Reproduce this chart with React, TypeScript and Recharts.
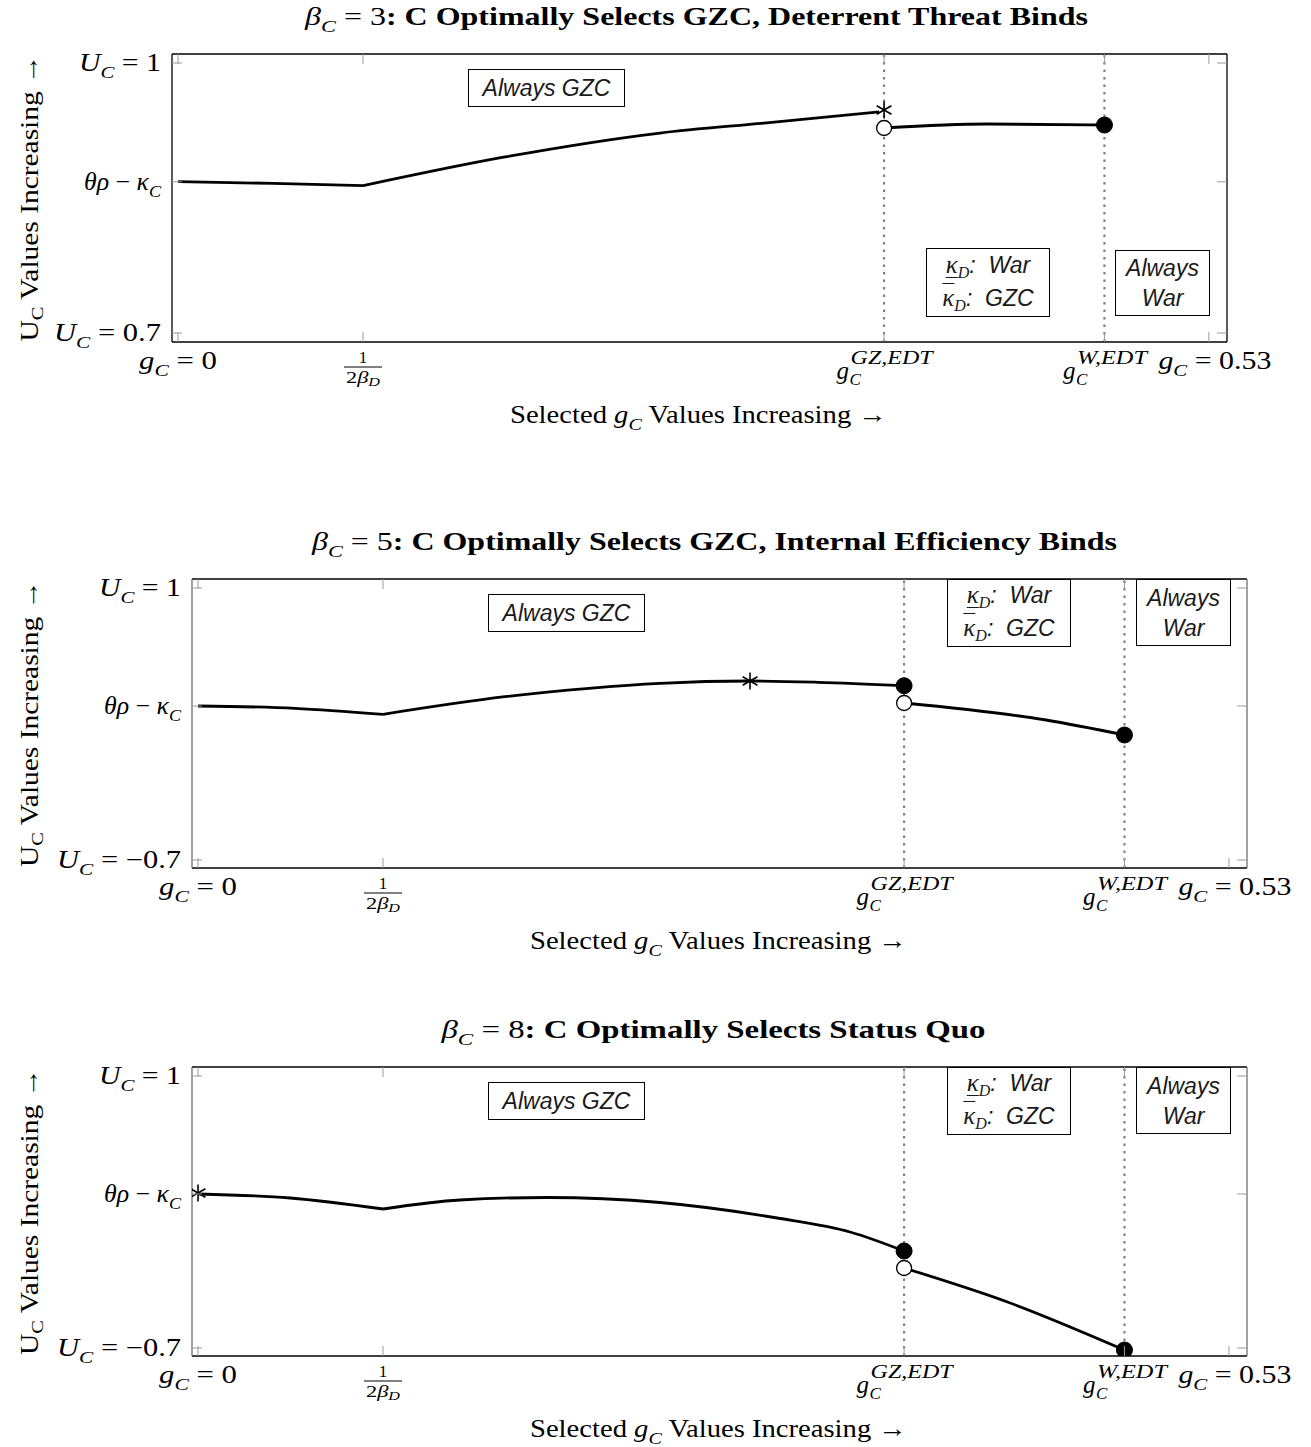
import React from 'react';
import { ComposedChart, Line, XAxis, YAxis, ReferenceLine } from 'recharts';

const SERIF = "'Liberation Serif', 'Times New Roman', serif";
const SANS = "'Liberation Sans', Arial, sans-serif";
const PAGE_W = 1311;

// ---------------- shared x axis ----------------
const X_DOMAIN: [number, number] = [-0.0031, 0.5393];
const X_TICKS = [0, 0.0951, 0.363, 0.4763, 0.53];
const X_TICK_LABELS = ['g_C = 0', '\\frac{1}{2β_D}', 'g_C^{GZ,EDT}', 'g_C^{W,EDT}', 'g_C = 0.53'];
const THRESHOLDS = [0.363, 0.4763];
const X_TITLE = 'Selected g_C Values Increasing →';
const Y_TITLE = 'U_C Values Increasing →';

// ---------------- panel 1: beta_C = 3 ----------------
const P1_TITLE_MATH = 'β_C = 3';
const P1_TITLE_TEXT = ': C Optimally Selects GZC, Deterrent Threat Binds';
const P1_Y_DOMAIN: [number, number] = [0.69, 1.01];
const P1_Y_TICKS = [0.7, 0.868, 1];
const P1_Y_LABELS = ['U_C = 0.7', 'θρ − κ_C', 'U_C = 1'];
const P1_SEG_A = [
  { x: 0, y: 0.8681 },
  { x: 0.0488, y: 0.8663 },
  { x: 0.0951, y: 0.8637 },
];
const P1_SEG_B = [
  { x: 0.0951, y: 0.8637 },
  { x: 0.1681, y: 0.8956 },
  { x: 0.2478, y: 0.9222 },
  { x: 0.3013, y: 0.9333 },
  { x: 0.3605, y: 0.9456 },
];
const P1_SEG_C = [
  { x: 0.363, y: 0.9278 },
  { x: 0.416, y: 0.9322 },
  { x: 0.4763, y: 0.9311 },
];
const P1_STAR = [{ x: 0.363, y: 0.9478 }];
const P1_OPEN = [{ x: 0.363, y: 0.9278 }];
const P1_FILLED = [{ x: 0.4763, y: 0.9311 }];

// ---------------- panel 2: beta_C = 5 ----------------
const P2_TITLE_MATH = 'β_C = 5';
const P2_TITLE_TEXT = ': C Optimally Selects GZC, Internal Efficiency Binds';
const P2_Y_DOMAIN: [number, number] = [-0.75, 1.05625];
const P2_Y_TICKS = [-0.7, 0.2625, 1];
const P2_Y_LABELS = ['U_C = −0.7', 'θρ − κ_C', 'U_C = 1'];
const P2_SEG_A = [
  { x: 0, y: 0.2625 },
  { x: 0.0499, y: 0.2481 },
  { x: 0.0951, y: 0.2106 },
];
const P2_SEG_B = [
  { x: 0.0951, y: 0.2106 },
  { x: 0.1578, y: 0.3206 },
  { x: 0.201, y: 0.3731 },
  { x: 0.2375, y: 0.4044 },
  { x: 0.2838, y: 0.4188 },
  { x: 0.3188, y: 0.4106 },
  { x: 0.363, y: 0.3894 },
];
const P2_SEG_C = [
  { x: 0.363, y: 0.2813 },
  { x: 0.436, y: 0.175 },
  { x: 0.4763, y: 0.0813 },
];
const P2_STAR = [{ x: 0.2838, y: 0.4188 }];
const P2_OPEN = [{ x: 0.363, y: 0.2813 }];
const P2_FILLED = [
  { x: 0.363, y: 0.3894 },
  { x: 0.4763, y: 0.0813 },
];

// ---------------- panel 3: beta_C = 8 ----------------
const P3_TITLE_MATH = 'β_C = 8';
const P3_TITLE_TEXT = ': C Optimally Selects Status Quo';
const P3_Y_DOMAIN: [number, number] = [-0.75, 1.05625];
const P3_Y_TICKS = [-0.7, 0.2625, 1];
const P3_Y_LABELS = ['U_C = −0.7', 'θρ − κ_C', 'U_C = 1'];
const P3_SEG_A = [
  { x: 0, y: 0.2625 },
  { x: 0.0473, y: 0.2375 },
  { x: 0.0951, y: 0.1688 },
];
const P3_SEG_B = [
  { x: 0.0951, y: 0.1688 },
  { x: 0.1347, y: 0.225 },
  { x: 0.1794, y: 0.2406 },
  { x: 0.2375, y: 0.2094 },
  { x: 0.2977, y: 0.1125 },
  { x: 0.3352, y: 0.025 },
  { x: 0.363, y: -0.0938 },
];
const P3_SEG_C = [
  { x: 0.363, y: -0.2 },
  { x: 0.4165, y: -0.4138 },
  { x: 0.4763, y: -0.7125 },
];
const P3_STAR = [{ x: 0, y: 0.269 }];
const P3_OPEN = [{ x: 0.363, y: -0.2 }];
const P3_FILLED = [
  { x: 0.363, y: -0.0938 },
  { x: 0.4763, y: -0.7125 },
];

// ---------------- annotation boxes ----------------
const BOX_GZC = ['Always GZC'];
const BOX_KAPPA = ['War', 'GZC'];
const BOX_WAR = ['Always', 'War'];

type Pt = { x: number; y: number };
type BoxCfg = { kind: 'gzc' | 'kappa' | 'war'; left: number; top: number; w: number; h: number };

const P1_BOXES: BoxCfg[] = [
  { kind: 'gzc', left: 296, top: 15, w: 157, h: 38 },
  { kind: 'kappa', left: 754, top: 194, w: 124, h: 69 },
  { kind: 'war', left: 943, top: 196, w: 95, h: 66 },
];
const P23_BOXES: BoxCfg[] = [
  { kind: 'gzc', left: 296, top: 15, w: 157, h: 38 },
  { kind: 'kappa', left: 755, top: 0, w: 124, h: 68 },
  { kind: 'war', left: 944, top: 0, w: 95, h: 67 },
];

// rendered widths (px) of the tick labels, to mimic the wide TeX math font
const LABEL_LEN: Record<string, number> = {
  'U_C = 1': 82,
  'θρ − κ_C': 77,
  'U_C = 0.7': 107,
  'U_C = −0.7': 124,
  'g_C = 0': 78,
  'g_C = 0.53': 113,
};
const LABEL_DX: Record<string, number> = { 'g_C = 0.53': 6 };

// ---------------- math text helpers ----------------
type Run = { t: string; it?: boolean; sub?: boolean; bold?: boolean };

function parseRuns(s: string): Run[] {
  const runs: Run[] = [];
  let i = 0;
  while (i < s.length) {
    const ch = s[i];
    if (ch === '_') {
      runs.push({ t: s[i + 1], sub: true, it: true });
      i += 2;
      continue;
    }
    const isLetter = /[A-Za-zα-ωΑ-Ω]/.test(ch);
    const last = runs[runs.length - 1];
    if (last && !last.sub && !!last.it === isLetter) last.t += ch;
    else runs.push({ t: ch, it: isLetter });
    i++;
  }
  return runs;
}

function renderRuns(runs: Run[], fs: number, keyPrefix: string, subScale = 0.7, subShift = 0.28) {
  let shifted = false;
  const sh = fs * subShift;
  return runs.map((r, k) => {
    let dy: number | undefined;
    if (r.sub && !shifted) {
      dy = sh;
      shifted = true;
    } else if (!r.sub && shifted) {
      dy = -sh;
      shifted = false;
    }
    return (
      <tspan
        key={keyPrefix + k}
        dy={dy}
        fontStyle={r.it ? 'italic' : 'normal'}
        fontWeight={r.bold ? 'bold' : 'normal'}
        fontSize={r.sub ? fs * subScale : fs}
      >
        {r.t}
      </tspan>
    );
  });
}

// ---------------- markers ----------------
const StarMark = ({ cx, cy }: { cx: number; cy: number }) => {
  const r = 8.5;
  const a = r * Math.cos(Math.PI / 6);
  const b = r * Math.sin(Math.PI / 6);
  return (
    <g stroke="#000" strokeWidth={1.6}>
      <line x1={cx} y1={cy - r} x2={cx} y2={cy + r} />
      <line x1={cx - a} y1={cy - b} x2={cx + a} y2={cy + b} />
      <line x1={cx - a} y1={cy + b} x2={cx + a} y2={cy - b} />
    </g>
  );
};

const starDot = (p: any) => <StarMark key={'s' + p.index} cx={p.cx} cy={p.cy} />;
const openDot = (p: any) => (
  <circle key={'o' + p.index} cx={p.cx} cy={p.cy} r={7.5} fill="#fff" stroke="#000" strokeWidth={1.3} />
);
const filledDot = (p: any) => (
  <circle key={'f' + p.index} cx={p.cx} cy={p.cy} r={8} fill="#000" stroke="#000" strokeWidth={1} />
);

// ---------------- tick renderers ----------------
const TICK_COLOR = '#9a9a9a';
const TICK_LEN = 10;
const TICK_FS = 25;

function XTickLabel({ label, cx, y0 }: { label: string; cx: number; y0: number }) {
  const frac = label.match(/^\\frac\{(.+)\}\{(.+)\}$/);
  if (frac) {
    const den = parseRuns(frac[2]);
    return (
      <g fontFamily={SERIF} fill="#000">
        <text x={cx} y={y0 + 21} textAnchor="middle" fontSize={17}>
          {frac[1]}
        </text>
        <line x1={cx - 19} x2={cx + 19} y1={y0 + 25} y2={y0 + 25} stroke="#000" strokeWidth={1} />
        <text
          x={cx - 17}
          y={y0 + 41}
          fontSize={17}
          textLength={34}
          lengthAdjust="spacingAndGlyphs"
          style={{ whiteSpace: 'pre' }}
        >
          {renderRuns(den, 17, 'd', 0.72, 0.18)}
        </text>
      </g>
    );
  }
  const ss = label.match(/^(\w)_(\w)\^\{(.+)\}$/);
  if (ss) {
    const supW = ss[3].length > 5 ? 82 : 70;
    const gW = 13;
    const x0 = cx - (gW + supW) / 2;
    return (
      <g fontFamily={SERIF} fill="#000" fontStyle="italic">
        <text x={x0} y={y0 + 37} fontSize={TICK_FS}>
          {ss[1]}
        </text>
        <text x={x0 + gW} y={y0 + 43} fontSize={17}>
          {ss[2]}
        </text>
        <text x={x0 + gW + 1} y={y0 + 22} fontSize={18} textLength={supW} lengthAdjust="spacingAndGlyphs">
          {ss[3]}
        </text>
      </g>
    );
  }
  return (
    <text
      x={cx + (LABEL_DX[label] || 0)}
      y={y0 + 27}
      textAnchor="middle"
      fontFamily={SERIF}
      fontSize={TICK_FS}
      fill="#000"
      textLength={LABEL_LEN[label]}
      lengthAdjust="spacingAndGlyphs"
      style={{ whiteSpace: 'pre' }}
    >
      {renderRuns(parseRuns(label), TICK_FS, 'x')}
    </text>
  );
}

const makeBottomTick = () => (p: any) => {
  const cx = p.payload.coordinate;
  const y0 = p.y;
  const idx = X_TICKS.indexOf(p.payload.value);
  return (
    <g key={'bt' + idx}>
      <line x1={cx} x2={cx} y1={y0} y2={y0 - TICK_LEN} stroke={TICK_COLOR} strokeWidth={1} />
      {idx >= 0 && <XTickLabel label={X_TICK_LABELS[idx]} cx={cx} y0={y0} />}
    </g>
  );
};

const makeTopTick = () => (p: any) => {
  const cx = p.payload.coordinate;
  return <line key={'tt' + p.index} x1={cx} x2={cx} y1={p.y} y2={p.y + TICK_LEN} stroke={TICK_COLOR} strokeWidth={1} />;
};

const makeLeftTick = (ticks: number[], labels: string[]) => (p: any) => {
  const cy = p.payload.coordinate;
  const x0 = p.x;
  const idx = ticks.indexOf(p.payload.value);
  const lbl = idx >= 0 ? labels[idx] : '';
  return (
    <g key={'lt' + idx}>
      <line x1={x0} x2={x0 + TICK_LEN} y1={cy} y2={cy} stroke={TICK_COLOR} strokeWidth={1} />
      {idx >= 0 && (
        <text
          x={x0 - 11}
          y={cy + 8}
          textAnchor="end"
          fontFamily={SERIF}
          fontSize={TICK_FS}
          fill="#000"
          textLength={LABEL_LEN[lbl]}
          lengthAdjust="spacingAndGlyphs"
          style={{ whiteSpace: 'pre' }}
        >
          {renderRuns(parseRuns(lbl), TICK_FS, 'y')}
        </text>
      )}
    </g>
  );
};

const makeRightTick = () => (p: any) => {
  const cy = p.payload.coordinate;
  return <line key={'rt' + p.index} x1={p.x - TICK_LEN} x2={p.x} y1={cy} y2={cy} stroke={TICK_COLOR} strokeWidth={1} />;
};

// ---------------- panel ----------------
type PanelCfg = {
  top: number;
  chartH: number;
  plotLeft: number;
  rightW: number;
  plotTop: number;
  plotH: number;
  sideColor: string;
  titleMath: string;
  titleText: string;
  titleLen: number;
  titleDx: number;
  yDomain: [number, number];
  yTicks: number[];
  yLabels: string[];
  segments: Pt[][];
  stars: Pt[];
  opens: Pt[];
  filled: Pt[];
  boxes: BoxCfg[];
};

function BoxView({ b, plotLeft, plotTop }: { b: BoxCfg; plotLeft: number; plotTop: number }) {
  const style: React.CSSProperties = {
    position: 'absolute',
    left: plotLeft + b.left,
    top: plotTop + b.top,
    width: b.w,
    height: b.h,
    boxSizing: 'border-box',
    border: '1.3px solid #000',
    background: '#fff',
    display: 'flex',
    flexDirection: 'column',
    alignItems: 'center',
    justifyContent: 'center',
    fontFamily: SANS,
    fontStyle: 'italic',
    fontSize: 23,
    lineHeight: '30px',
    color: '#1a1a1a',
    whiteSpace: 'nowrap',
  };
  const kap: React.CSSProperties = { fontFamily: SERIF, fontStyle: 'italic', fontSize: 25 };
  const sub: React.CSSProperties = { fontFamily: SERIF, fontStyle: 'italic', fontSize: 16, position: 'relative', top: 5 };
  if (b.kind === 'gzc') return <div style={style}>{BOX_GZC[0]}</div>;
  if (b.kind === 'war')
    return (
      <div style={style}>
        <div>{BOX_WAR[0]}</div>
        <div>{BOX_WAR[1]}</div>
      </div>
    );
  return (
    <div style={style}>
      <div>
        <span style={{ ...kap, textDecoration: 'underline', textUnderlineOffset: '4px', textDecorationThickness: '1.3px' }}>κ</span>
        <span style={sub}>D</span>
        <span>:&nbsp; {BOX_KAPPA[0]}</span>
      </div>
      <div>
        <span style={{ ...kap, textDecoration: 'overline', textDecorationThickness: '1.3px' }}>κ</span>
        <span style={sub}>D</span>
        <span>:&nbsp; {BOX_KAPPA[1]}</span>
      </div>
    </div>
  );
}

function Panel({ cfg }: { cfg: PanelCfg }) {
  const { top, chartH, plotLeft, rightW, plotTop, plotH } = cfg;
  const bottomH = chartH - plotTop - plotH;
  const plotW = PAGE_W - plotLeft - rightW;
  const midX = plotLeft + plotW / 2;
  const midY = plotTop + plotH / 2;
  const frameH = { stroke: '#000', strokeWidth: 1.3 };
  const frameV = { stroke: cfg.sideColor, strokeWidth: 1.3 };

  const titleLabel = () => (
    <text
      x={midX + cfg.titleDx}
      y={plotTop - 29}
      textAnchor="middle"
      fontFamily={SERIF}
      fill="#000"
      textLength={cfg.titleLen}
      lengthAdjust="spacingAndGlyphs"
      style={{ whiteSpace: 'pre' }}
    >
      {renderRuns([...parseRuns(cfg.titleMath), { t: cfg.titleText, bold: true }], 25, 't')}
    </text>
  );

  // only the math symbol g_C is italic in the x title
  const xRuns = parseRuns(X_TITLE).map((r) => (r.t === 'g' || r.sub ? r : { ...r, it: false }));

  const xTitleLabel = () => (
    <text
      x={midX - 1}
      y={plotTop + plotH + 81}
      textAnchor="middle"
      fontFamily={SERIF}
      fill="#000"
      textLength={377}
      lengthAdjust="spacingAndGlyphs"
      style={{ whiteSpace: 'pre' }}
    >
      {renderRuns(xRuns, 25, 'xt')}
    </text>
  );

  const yTitleLabel = () => (
    <text
      transform={`translate(38, ${midY}) rotate(-90)`}
      textAnchor="middle"
      fontFamily={SERIF}
      fill="#000"
      textLength={287}
      lengthAdjust="spacingAndGlyphs"
      style={{ whiteSpace: 'pre' }}
    >
      {renderRuns(parseRuns(Y_TITLE).map((r) => ({ ...r, it: false })), 25, 'yt', 0.7, 0.2)}
    </text>
  );

  return (
    <div style={{ position: 'absolute', left: 0, top, width: PAGE_W, height: chartH }}>
      <ComposedChart width={PAGE_W} height={chartH} margin={{ top: 0, right: 0, bottom: 0, left: 0 }}>
        <XAxis
          xAxisId="b"
          type="number"
          dataKey="x"
          domain={X_DOMAIN}
          ticks={X_TICKS}
          interval={0}
          allowDataOverflow
          height={bottomH}
          tickSize={0}
          tickMargin={0}
          tickLine={false}
          axisLine={frameH}
          tick={makeBottomTick()}
          label={xTitleLabel}
        />
        <XAxis
          xAxisId="t"
          orientation="top"
          type="number"
          dataKey="x"
          domain={X_DOMAIN}
          ticks={X_TICKS}
          interval={0}
          allowDataOverflow
          height={plotTop}
          tickSize={0}
          tickMargin={0}
          tickLine={false}
          axisLine={frameH}
          tick={makeTopTick()}
          label={titleLabel}
        />
        <YAxis
          yAxisId="l"
          type="number"
          domain={cfg.yDomain}
          ticks={cfg.yTicks}
          interval={0}
          allowDataOverflow
          width={plotLeft}
          tickSize={0}
          tickMargin={0}
          tickLine={false}
          axisLine={frameV}
          tick={makeLeftTick(cfg.yTicks, cfg.yLabels)}
          label={yTitleLabel}
        />
        <YAxis
          yAxisId="r"
          orientation="right"
          type="number"
          domain={cfg.yDomain}
          ticks={cfg.yTicks}
          interval={0}
          allowDataOverflow
          width={rightW}
          tickSize={0}
          tickMargin={0}
          tickLine={false}
          axisLine={frameV}
          tick={makeRightTick()}
        />
        {THRESHOLDS.map((t) => (
          <ReferenceLine key={'ref' + t} xAxisId="b" yAxisId="l" x={t} stroke="#808080" strokeWidth={2.2} strokeDasharray="2.5 5" />
        ))}
        {cfg.segments.map((seg, i) => (
          <Line
            key={'seg' + i}
            xAxisId="b"
            yAxisId="l"
            data={seg}
            dataKey="y"
            type="monotone"
            stroke="#000"
            strokeWidth={2.8}
            dot={false}
            activeDot={false}
            isAnimationActive={false}
          />
        ))}
        <Line xAxisId="t" yAxisId="r" data={cfg.stars} dataKey="y" stroke="none" dot={starDot} activeDot={false} isAnimationActive={false} />
        <Line xAxisId="t" yAxisId="r" data={cfg.opens} dataKey="y" stroke="none" dot={openDot} activeDot={false} isAnimationActive={false} />
        <Line xAxisId="t" yAxisId="r" data={cfg.filled} dataKey="y" stroke="none" dot={filledDot} activeDot={false} isAnimationActive={false} />
      </ComposedChart>
      {cfg.boxes.map((b, i) => (
        <BoxView key={'box' + i} b={b} plotLeft={plotLeft} plotTop={plotTop} />
      ))}
    </div>
  );
}

const PANELS: PanelCfg[] = [
  {
    top: 0,
    chartH: 450,
    plotLeft: 172,
    rightW: 84,
    plotTop: 54,
    plotH: 288,
    sideColor: '#000',
    titleMath: P1_TITLE_MATH,
    titleText: P1_TITLE_TEXT,
    titleLen: 783,
    titleDx: -3,
    yDomain: P1_Y_DOMAIN,
    yTicks: P1_Y_TICKS,
    yLabels: P1_Y_LABELS,
    segments: [P1_SEG_A, P1_SEG_B, P1_SEG_C],
    stars: P1_STAR,
    opens: P1_OPEN,
    filled: P1_FILLED,
    boxes: P1_BOXES,
  },
  {
    top: 525,
    chartH: 450,
    plotLeft: 192,
    rightW: 64,
    plotTop: 54,
    plotH: 289,
    sideColor: '#6e6e6e',
    titleMath: P2_TITLE_MATH,
    titleText: P2_TITLE_TEXT,
    titleLen: 805,
    titleDx: -5,
    yDomain: P2_Y_DOMAIN,
    yTicks: P2_Y_TICKS,
    yLabels: P2_Y_LABELS,
    segments: [P2_SEG_A, P2_SEG_B, P2_SEG_C],
    stars: P2_STAR,
    opens: P2_OPEN,
    filled: P2_FILLED,
    boxes: P23_BOXES,
  },
  {
    top: 1013,
    chartH: 434,
    plotLeft: 192,
    rightW: 64,
    plotTop: 54,
    plotH: 289,
    sideColor: '#6e6e6e',
    titleMath: P3_TITLE_MATH,
    titleText: P3_TITLE_TEXT,
    titleLen: 544,
    titleDx: -6,
    yDomain: P3_Y_DOMAIN,
    yTicks: P3_Y_TICKS,
    yLabels: P3_Y_LABELS,
    segments: [P3_SEG_A, P3_SEG_B, P3_SEG_C],
    stars: P3_STAR,
    opens: P3_OPEN,
    filled: P3_FILLED,
    boxes: P23_BOXES,
  },
];

export default function App() {
  return (
    <div style={{ position: 'absolute', left: 0, top: 0, width: PAGE_W, height: 1447, background: '#fff', overflow: 'hidden' }}>
      {PANELS.map((cfg, i) => (
        <Panel key={i} cfg={cfg} />
      ))}
    </div>
  );
}
